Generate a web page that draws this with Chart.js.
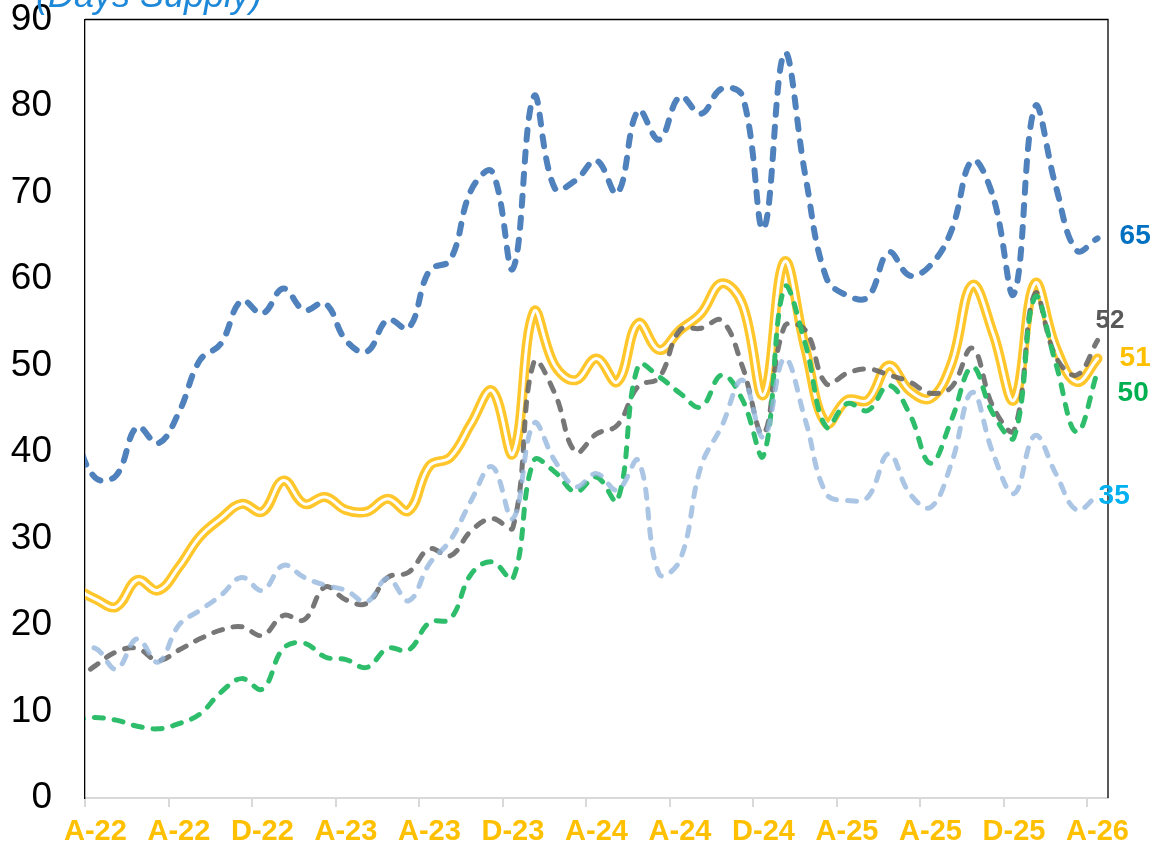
<!DOCTYPE html>
<html>
<head>
<meta charset="utf-8">
<script src="https://cdn.jsdelivr.net/npm/chart.js@4.4.1/dist/chart.umd.min.js"></script>
<style>
  html, body { margin: 0; padding: 0; background: #fff; }
  #wrap { width: 1157px; height: 848px; position: relative; }
</style>
</head>
<body>
<div id="wrap"><canvas id="c" width="1157" height="848"></canvas></div>
<script>
// ---- data (monthly, Mar-22 .. Apr-26, plotted mid-month) ----
const tickLabels = ['A-22','A-22','D-22','A-23','A-23','D-23','A-24','A-24','D-24','A-25','A-25','D-25','A-26'];
const titleText = '(Days Supply)';

const seriesBlue = [42, 37, 37.3, 42.9, 41, 44.6, 50.6, 52.5, 57.5, 56, 58.9, 56.4, 57.2, 52.9, 51.6, 55.3, 54.3, 61, 62.2, 70.3, 72.4, 61.2, 81.1, 70.5, 71.4, 73.7, 69.9, 79.5, 76.1, 81.1, 79.1, 82, 81.1, 65.8, 86.1, 72, 60.2, 58.1, 57.9, 63.1, 60.4, 61.6, 65.6, 73.7, 69.5, 58.3, 79.9, 70.7, 63.3, 64.7];
const seriesYellow = [24.3, 23.0, 22.1, 25.2, 24.0, 26.7, 30.2, 32.3, 34.0, 33.1, 36.7, 34.0, 34.8, 33.3, 33.1, 34.6, 33.2, 38.4, 39.4, 43.3, 47.1, 39.8, 56.2, 50.0, 48.3, 50.8, 48.1, 54.9, 51.8, 54.1, 56.0, 59.5, 57.0, 46.6, 62.0, 52.0, 43.3, 46.0, 46.0, 50.0, 47.1, 46.2, 50.2, 59.3, 53.7, 46.0, 59.5, 52.1, 48.1, 50.8];
const seriesGray = [13.5, 15.3, 16.9, 17.3, 15.9, 17.1, 18.4, 19.4, 19.8, 18.8, 21.1, 20.6, 24.4, 22.9, 22.5, 25.5, 26.1, 28.8, 28.0, 30.9, 32.3, 31.3, 50.4, 46.8, 40.0, 42.1, 43.1, 47.6, 48.6, 54.1, 54.3, 55.2, 49.8, 42.1, 54.5, 54.1, 47.9, 49.1, 49.6, 48.9, 48.1, 46.8, 47.5, 52.0, 45.2, 42.5, 58.3, 51.0, 48.9, 52.9];
const seriesGreen = [9.0, 9.3, 9.0, 8.3, 8.0, 8.6, 9.7, 12.2, 13.8, 12.6, 17.3, 17.9, 16.3, 16.0, 15.1, 17.3, 17.1, 20.3, 20.7, 25.9, 27.3, 25.4, 39.0, 37.7, 35.4, 37.1, 34.4, 50.0, 48.7, 46.8, 45.2, 48.9, 46.0, 39.6, 59.0, 52.5, 42.9, 45.6, 44.8, 47.7, 44.4, 38.7, 43.7, 49.8, 44.4, 41.7, 57.9, 50.2, 42.3, 49.3];
const seriesLight = [17.0, 17.3, 14.9, 18.4, 15.7, 20.0, 21.7, 23.4, 25.5, 24.0, 26.9, 25.5, 24.6, 24.0, 22.7, 25.4, 22.8, 27.1, 29.8, 34.4, 38.3, 32.3, 43.3, 39.0, 36.0, 37.5, 35.6, 39.0, 25.9, 27.5, 38.3, 43.0, 48.3, 41.7, 50.8, 43.7, 35.2, 34.4, 34.8, 39.8, 35.2, 33.6, 38.7, 46.9, 39.8, 35.2, 41.9, 37.5, 33.3, 35.0];

const endLabels = ['65', '52', '51', '50', '35'];

// month index k -> x position (mid-month, axis starts at Apr-22 = 0)
const toPoints = arr => arr.map((v, k) => ({ x: k - 0.5, y: v }));

const FONT = "'Liberation Sans', Arial, sans-serif";

const lineBase = {
  fill: false,
  pointRadius: 0,
  pointHoverRadius: 0,
  tension: 0.4,
  borderCapStyle: 'round',
  borderJoinStyle: 'round'
};

const datasets = [
  Object.assign({}, lineBase, { label: 'blue', data: toPoints(seriesBlue), borderColor: '#4F81BD', borderWidth: 6, borderDash: [10, 12], order: 3 }),
  Object.assign({}, lineBase, { label: 'yellow', data: toPoints(seriesYellow), borderColor: '#FFC72C', borderWidth: 10, order: 5 }),
  Object.assign({}, lineBase, { label: 'yellowInner', data: toPoints(seriesYellow), borderColor: '#FFFFFF', borderWidth: 3, order: 4 }),
  Object.assign({}, lineBase, { label: 'gray', data: toPoints(seriesGray), borderColor: 'rgba(100,100,100,0.88)', borderWidth: 5, borderDash: [9, 11], order: 2 }),
  Object.assign({}, lineBase, { label: 'green', data: toPoints(seriesGreen), borderColor: '#2EBD6B', borderWidth: 5, borderDash: [9, 11], order: 1 }),
  Object.assign({}, lineBase, { label: 'light', data: toPoints(seriesLight), borderColor: 'rgba(150,182,221,0.8)', borderWidth: 5, borderDash: [9, 11], order: 0 })
];

// end-of-line label styles (dataset index, colour, pixel offsets)
const endLabelStyle = [
  { ds: 0, color: '#0070C0', dx: 22, dy: -2, size: 28 },
  { ds: 3, color: '#595959', dx: -2, dy: -20, size: 26 },
  { ds: 1, color: '#FFC000', dx: 22, dy: 0, size: 28 },
  { ds: 4, color: '#00B050', dx: 20, dy: 22, size: 28 },
  { ds: 5, color: '#00B0F0', dx: 1, dy: 1, size: 28 }
];

const decoPlugin = {
  id: 'deco',
  afterDatasetsDraw(chart) {
    const { ctx, chartArea: a, scales } = chart;
    ctx.save();
    // top & right frame
    ctx.strokeStyle = '#000';
    ctx.lineWidth = 1.3;
    ctx.beginPath();
    ctx.moveTo(a.left, a.top);
    ctx.lineTo(a.right, a.top);
    ctx.lineTo(a.right, a.bottom);
    ctx.stroke();
    // end labels
    ctx.textAlign = 'left';
    ctx.textBaseline = 'middle';
    endLabelStyle.forEach((s, i) => {
      const data = chart.data.datasets[s.ds].data;
      const last = data[data.length - 1];
      const x = scales.x.getPixelForValue(last.x) + s.dx;
      const y = scales.y.getPixelForValue(last.y) + s.dy;
      ctx.font = 'bold ' + s.size + 'px ' + FONT;
      ctx.fillStyle = s.color;
      ctx.fillText(endLabels[i], x, y);
    });
    ctx.restore();
  },
  afterDraw(chart) {
    const ctx = chart.ctx;
    ctx.save();
    ctx.font = 'italic 36px ' + FONT;
    ctx.fillStyle = '#1E88D8';
    ctx.textAlign = 'left';
    ctx.textBaseline = 'alphabetic';
    ctx.fillText(titleText, 36, 7);
    ctx.restore();
  }
};

new Chart(document.getElementById('c'), {
  type: 'line',
  data: { datasets },
  options: {
    responsive: false,
    animation: false,
    events: [],
    layout: { padding: { top: 19.5, right: 49, left: 0, bottom: 0 } },
    plugins: { legend: { display: false }, tooltip: { enabled: false }, title: { display: false } },
    scales: {
      x: {
        type: 'linear',
        min: 0,
        max: 49,
        afterBuildTicks: scale => { scale.ticks = tickLabels.map((_, i) => ({ value: i * 4 })); },
        afterFit: scale => { scale.height = 50; },
        ticks: {
          autoSkip: false,
          maxRotation: 0,
          minRotation: 0,
          padding: 8,
          labelOffset: 10.4,
          color: '#FFC000',
          font: { family: FONT, size: 29, weight: 'bold' },
          callback: (v, i) => tickLabels[i]
        },
        grid: { drawOnChartArea: false, drawTicks: true, tickLength: 9, color: '#D9D9D9', lineWidth: 2 },
        border: { display: true, color: '#D9D9D9', width: 2 }
      },
      y: {
        min: 0,
        max: 90,
        afterFit: scale => { scale.width = 85; scale.paddingTop = 0; scale.paddingBottom = 0; },
        ticks: {
          stepSize: 10,
          padding: 0,
          color: '#000',
          font: { family: FONT, size: 37, lineHeight: 1 }
        },
        grid: { display: false, drawTicks: true, tickLength: 33 },
        border: { display: true, color: '#000', width: 1.3 }
      }
    }
  },
  plugins: [decoPlugin]
});
</script>
</body>
</html>
